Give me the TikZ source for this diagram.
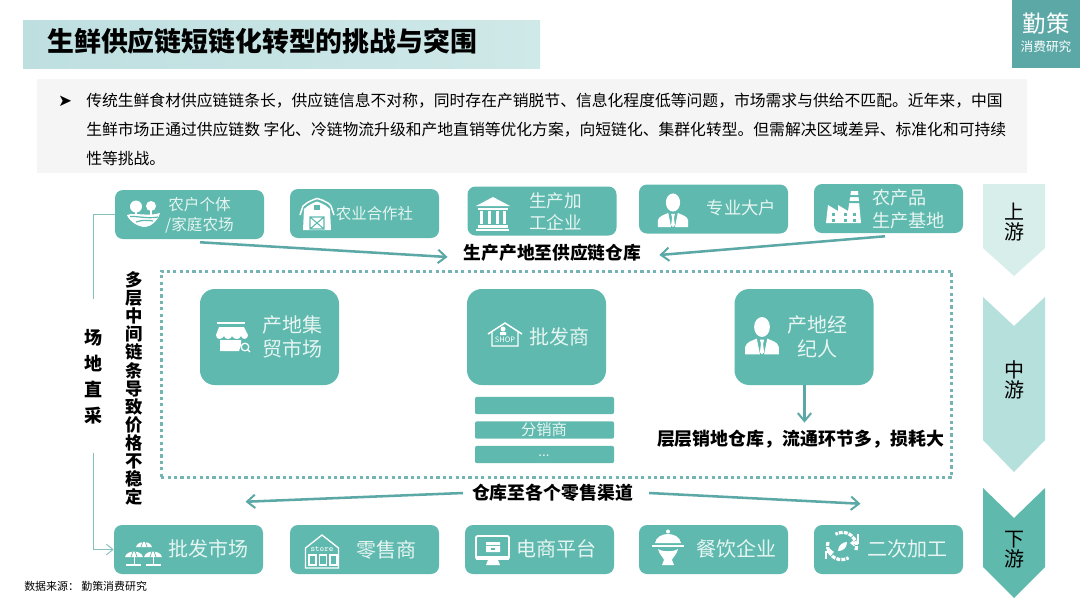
\documentclass[tikz,border=0pt]{standalone}
\usepackage{fontspec}
\usetikzlibrary{calc,arrows.meta}
\setmainfont{Noto Sans CJK SC}
\newfontfamily\dvs{DejaVu Sans}
\definecolor{teal1}{HTML}{5FB9AE}
\definecolor{tealdark}{HTML}{5BA8A7}
\definecolor{txtw}{HTML}{E6F5F2}
\definecolor{bandL}{HTML}{BEDFE0}
\definecolor{bandR}{HTML}{CFE8E8}
\definecolor{chevA}{HTML}{D8EEEB}
\definecolor{chevB}{HTML}{B5E0DB}
\definecolor{chevC}{HTML}{5FB9AC}
\newcommand\fs[2]{\fontsize{#1}{#2}\selectfont}
\tikzset{
  x=0.75pt,y=-0.75pt,
  rbox/.style={fill=teal1,draw=none,rounded corners=6pt,minimum width=111.75pt,minimum height=36.75pt,inner sep=0},
  mbox/.style={fill=teal1,draw=none,rounded corners=11pt,minimum width=104.25pt,minimum height=72pt,inner sep=0},
  bar/.style={fill=teal1,draw=none,rounded corners=1.5pt,minimum width=104.25pt,minimum height=13pt,inner sep=0},
  wt/.style={text=txtw,inner sep=0,align=center},
  bk/.style={text=black,inner sep=0,align=center},
  arr/.style={draw=tealdark,line width=1.9pt,-{Straight Barb[length=6pt,width=10pt,line width=1.5pt]}},
  thin line/.style={draw=tealdark!75,line width=.8pt},
  ic/.style={fill=white,draw=none},
  icl/.style={draw=white,line width=.9pt,fill=none},
  chev/.style={draw=none},
}
% person icon, centre at (#1,#2), scale #3
\newcommand\person[3]{\begin{scope}[shift={(#1,#2)},scale=#3]
 \fill[ic] (0,-10) ellipse (7.5 and 9.5);
 \fill[ic] (-16,16) -- (-16,9) .. controls (-15,4) and (-9,3) .. (-5,1) -- (-2,16) -- cycle;
 \fill[ic] (16,16) -- (16,9) .. controls (15,4) and (9,3) .. (5,1) -- (2,16) -- cycle;
 \fill[ic] (-2,2) -- (2,2) -- (1,6) -- (2,14) -- (0,16) -- (-2,14) -- (-1,6) -- cycle;
\end{scope}}
\begin{document}
\begin{tikzpicture}
\useasboundingbox (0,0) rectangle (1080,608);
\fill[white] (0,0) rectangle (1080,608);
% title
\node[left color=bandL,right color=bandR,minimum width=387.75pt,minimum height=36pt,inner sep=0] (band) at (281.5,44) {};
\node[bk,anchor=west,font=\bfseries\fs{20.15}{24}] (title) at (47,41) {生鲜供应链短链化转型的挑战与突围};
% logo
\node[fill=tealdark,minimum width=51pt,minimum height=51pt,inner sep=0] (logo) at (1046,34) {};
\node[wt,text=white,font=\fs{17.5}{20}] (logoA) at (1046,24) {勤策};
\node[wt,text=white,font=\fs{9.5}{12}] (logoB) at (1046,47) {消费研究};
% paragraph
\node[fill=black!4,minimum width=742.5pt,minimum height=70.5pt,inner sep=0] (para) at (532,126) {};
\node[bk,anchor=center,font=\dvs\fs{12.5}{14}] (bul) at (65,101) {➤};
\node[bk,anchor=west,font=\fs{11.85}{14}] (p1) at (86,101) {传统生鲜食材供应链链条长，供应链信息不对称，同时存在产销脱节、信息化程度低等问题，市场需求与供给不匹配。近年来，中国};
\node[bk,anchor=west,font=\fs{11.85}{14}] (p2) at (86,129.5) {生鲜市场正通过供应链数 字化、冷链物流升级和产地直销等优化方案，向短链化、集群化转型。但需解决区域差异、标准化和可持续};
\node[bk,anchor=west,font=\fs{11.85}{14}] (p3) at (86,158) {性等挑战。};
% chevrons
\fill[chev,fill=chevA] (983,184) -- (1045,184) -- (1045,248) -- (1014,276) -- (983,248) -- cycle;
\fill[chev,fill=chevB] (983,297) -- (1014,326) -- (1045,297) -- (1045,440) -- (1014,472) -- (983,440) -- cycle;
\fill[chev,fill=chevC] (983,488) -- (1014,518) -- (1045,488) -- (1045,567) -- (1014,598) -- (983,567) -- cycle;
\node[bk,font=\fs{15}{15}] (up) at (1014,222) {上\\游};
\node[bk,font=\fs{15}{15}] (mid) at (1014,380) {中\\游};
\node[bk,font=\fs{15}{15}] (down) at (1014,550) {下\\游};
% dotted frame
\node[draw=tealdark!85,line width=2.2pt,dash pattern=on 2.4pt off 2.4pt,minimum width=593pt,minimum height=155pt,inner sep=0] (frame) at (556.5,374.5) {};
% top row
\node[rbox] (t1) at (189.5,214.5) {};
\node[rbox] (t2) at (364.5,213.5) {};
\node[rbox] (t3) at (542,211) {};
\node[rbox] (t4) at (713.5,209) {};
\node[rbox] (t5) at (888.5,208.5) {};
% middle
\node[mbox] (ma) at (269.5,337) {};
\node[mbox] (mb) at (536.5,337) {};
\node[mbox] (mc) at (804,337) {};
\node[bar] (b1) at (544.5,405.5) {};
\node[bar] (b2) at (544.5,430) {};
\node[bar] (b3) at (544.5,454.5) {};
% bottom row
\node[rbox] (d1) at (188.5,549.5) {};
\node[rbox] (d2) at (364.5,549.5) {};
\node[rbox] (d3) at (539.5,549.5) {};
\node[rbox] (d4) at (713.5,549.5) {};
\node[rbox] (d5) at (888.5,549.5) {};
% box labels
\node[wt,font=\fs{11.7}{15}] (tt1) at (199.5,215.5) {农户个体\\/家庭农场};
\node[wt,font=\fs{11.6}{14}] (tt2) at (374.5,213.5) {农业合作社};
\node[wt,font=\fs{13.2}{16.5}] (tt3) at (555.5,212) {生产加\\工企业};
\node[wt,font=\fs{13}{15}] (tt4) at (741.5,208) {专业大户};
\node[wt,anchor=west,font=\fs{13.6}{17.2},align=left] (tt5) at (872,209.5) {农产品\\生产基地};
\node[wt,font=\fs{15}{18}] (ta) at (292,337) {产地集\\贸市场};
\node[wt,font=\fs{15}{18}] (tb) at (559,337) {批发商};
\node[wt,font=\fs{15}{18}] (tc) at (817,337) {产地经\\ 纪人};
\node[wt,font=\fs{11.5}{14}] (tb2) at (544,430) {分销商};
\node[wt,font=\fs{10}{12}] (tb3) at (544,456) {...};
\node[wt,font=\fs{15}{18}] (td1) at (208,549) {批发市场};
\node[wt,font=\fs{15}{18}] (td2) at (386.5,550) {零售商};
\node[wt,font=\fs{15}{18}] (td3) at (556,549) {电商平台};
\node[wt,font=\fs{15}{18}] (td4) at (736,549) {餐饮企业};
\node[wt,font=\fs{15}{18}] (td5) at (907.5,549) {二次加工};
% bold labels
\node[bk,font=\bfseries\fs{13.3}{16}] (l1) at (552.5,253) {生产产地至供应链仓库};
\node[bk,font=\bfseries\fs{13.4}{16}] (l2) at (552.5,493) {仓库至各个零售渠道};
\node[bk,font=\bfseries\fs{13.45}{16}] (l3) at (800.5,439) {层层销地仓库，流通环节多，损耗大};
\node[bk,font=\bfseries\fs{13.5}{19.6}] (vl) at (93.5,377) {场\\地\\直\\采};
\node[bk,font=\bfseries\fs{13}{13.55}] (vm) at (134.5,388.5) {多\\层\\中\\间\\链\\条\\导\\致\\价\\格\\不\\稳\\定};
\node[bk,anchor=west,font=\fs{8.2}{10}] (src) at (24,586) {数据来源： 勤策消费研究};
% connectors
\draw[arr] ($(t1.south)+(10.5,3)$) -- ($(l1.west)+(-16,4)$);
\draw[arr] ($(t5.south)+(-3.5,3)$) -- ($(l1.east)+(18,2)$);
\draw[arr] ($(l2.west)+(-9,0)$) -- ($(d1.north)+(57,-23)$);
\draw[arr] ($(l2.east)+(16,0)$) -- ($(d5.north)+(-28,-21)$);
\draw[arr] (mc.south) ++(0.5,0) -- ($(l3.north)+(4,-7)$);
\draw[thin line] (t1.west) -| ($(vl.north)+(0,-30)$);
\draw[thin line,-{Straight Barb[length=5pt,width=8pt,line width=.7pt]}] ($(vl.south)+(0,28)$) |- (d1.west);
% ----- icons -----
% farm
\fill[ic] (136,206.5) circle (6); \fill[ic] (151,206) circle (5);
\fill[ic] (135,211) rectangle (137,217); \fill[ic] (150,210) rectangle (152,216);
\fill[ic] (127,215) .. controls (135,212) and (148,217) .. (160,213) .. controls (158,221) and (150,227) .. (145,227) .. controls (138,227) and (129,221) .. (127,215) -- cycle;
\draw[teal1,line width=.9pt] (130,216.5) .. controls (138,216) and (148,219) .. (158,217);
\draw[teal1,line width=.9pt] (136,222) .. controls (141,220) and (148,220) .. (153,221);
% barn
\draw[icl,line width=1.1pt] (300,215) -- (303,206) .. controls (308,201) and (317,198.5) .. (317,198.5) .. controls (317,198.5) and (328,201) .. (331,206) -- (334,215);
\fill[ic] (304,209) .. controls (309,204) and (317,201.5) .. (317,201.5) .. controls (317,201.5) and (325,204) .. (330,209) -- (331,230) -- (303,230) -- cycle;
\fill[teal1] (314,205) rectangle (320,210);
\draw[teal1,line width=.8pt] (310,217) rectangle (324,229) (310,217) -- (324,229) (324,217) -- (310,229);
% bank
\fill[ic] (493,197) -- (510,206) -- (476,206) -- cycle;
\fill[ic] (478,207.5) rectangle (508,210);
\foreach \xx in {480,488,496,503} \fill[ic] (\xx,211) rectangle (\xx+3,224);
\fill[ic] (478,225) rectangle (508,227.5);
\fill[ic] (476,228.5) rectangle (509,231);
% person
\person{673}{212}{0.95}
% factory
\fill[ic] (826,223) -- (828,205) -- (838,211) -- (838,205) -- (848,211) -- (851,191) -- (858,191) -- (861,223) -- cycle;
\fill[teal1] (849,195) rectangle (860,197) (848,201) rectangle (860,203);
\foreach \xx/\yy in {832/213,832/219,844/213,844/219,853/213,853/219} \fill[teal1] (\xx,\yy) rectangle (\xx+3,\yy+3);
% shop with magnifier
\fill[ic] (217,322) rectangle (245,324);
\fill[ic] (219,327) -- (244,327) -- (248,335) .. controls (248,340) and (242,340) .. (241,336) .. controls (240,340) and (234,340) .. (232,336) .. controls (231,340) and (225,340) .. (224,336) .. controls (222,340) and (216,340) .. (216,335) -- cycle;
\fill[ic] (220,340) -- (241,340) -- (241,345) -- (239,351) -- (220,351) -- cycle;
\draw[icl] (245,347) circle (3.8) (248,350) -- (250,352);
% house SHOP
\draw[icl,line width=1.1pt] (488,334) -- (505,323) -- (522,334) (492,332) -- (492,346) -- (518,346) -- (518,332);
\fill[ic] (503,329) circle (2.5) (500,332) rectangle (506,335);
\node[wt,text=white,font=\fs{5.6}{6}] (shopt) at (505,340) {SHOP};
% person
\person{762}{337.5}{1.05}
% parasols
\foreach \xx/\yy/\ss in {144/546/0.8,134/556/0.9,153/556/0.9} {
 \fill[ic] (\xx-10*\ss,\yy+1) .. controls (\xx-8*\ss,\yy-7*\ss) and (\xx+8*\ss,\yy-7*\ss) .. (\xx+10*\ss,\yy+1) -- cycle;
 \draw[teal1,line width=.5pt] (\xx-3,\yy+1) -- (\xx-1,\yy-5) (\xx+3,\yy+1) -- (\xx+1,\yy-5);
}
\draw[icl,line width=.6pt] (134,557) -- (134,564) (153,557) -- (153,564);
\draw[icl] (126,565) -- (141,565) (146,565) -- (161,565);
% store
\draw[icl,line width=1pt] (305.5,548) -- (322,535) -- (338.5,548) -- (338.5,568) -- (305.5,568) -- cycle;
\node[wt,text=white,font=\ttfamily\fs{6.5}{7}] (storet) at (322,549) {store};
\foreach \xx in {309,319.5,330} \draw[icl,line width=.8pt] (\xx,555) rectangle (\xx+7,565);
% monitor
\draw[icl,line width=1.3pt,rounded corners=1pt] (476,536) rectangle (509,559);
\fill[ic] (476,556) rectangle (509,560);
\fill[ic] (488,560) -- (498,560) -- (500,565) -- (486,565) -- cycle;
\fill[ic] (486,542) rectangle (500,545) (486,546) rectangle (500,552);
\fill[teal1] (491,548) rectangle (495,550);
% cloche
\fill[ic] (668,531.5) circle (2);
\fill[ic] (655,543) .. controls (657,531) and (679,531) .. (681,543) -- cycle;
\draw[icl,line width=1.2pt] (652,546) -- (684,546);
\fill[ic] (658,549) .. controls (662,552) and (674,552) .. (678,549) .. controls (676,556) and (672,558) .. (672,560) -- (674,565) -- (662,565) -- (664,560) .. controls (664,558) and (660,556) .. (658,549) -- cycle;
% gear
\draw[icl,line width=2.4pt,dash pattern=on 3pt off .8pt] (842,546) ++(-14,-4) arc (195:60:14);
\draw[icl,line width=2.4pt,dash pattern=on 3pt off .8pt] (842,546) ++(14,4) arc (15:-120:14);
\draw[icl,line width=1pt,-{Straight Barb[length=2.5pt,width=4pt]}] (826,559) -- (826,552) -- (834,552);
\draw[icl,line width=1pt,-{Straight Barb[length=2.5pt,width=4pt]}] (858,534) -- (858,543) -- (850,543);
\fill[ic] (838,551) .. controls (838,545) and (843,542) .. (847,542) .. controls (847,548) and (843,551) .. (838,551) -- cycle;
\end{tikzpicture}
\end{document}
